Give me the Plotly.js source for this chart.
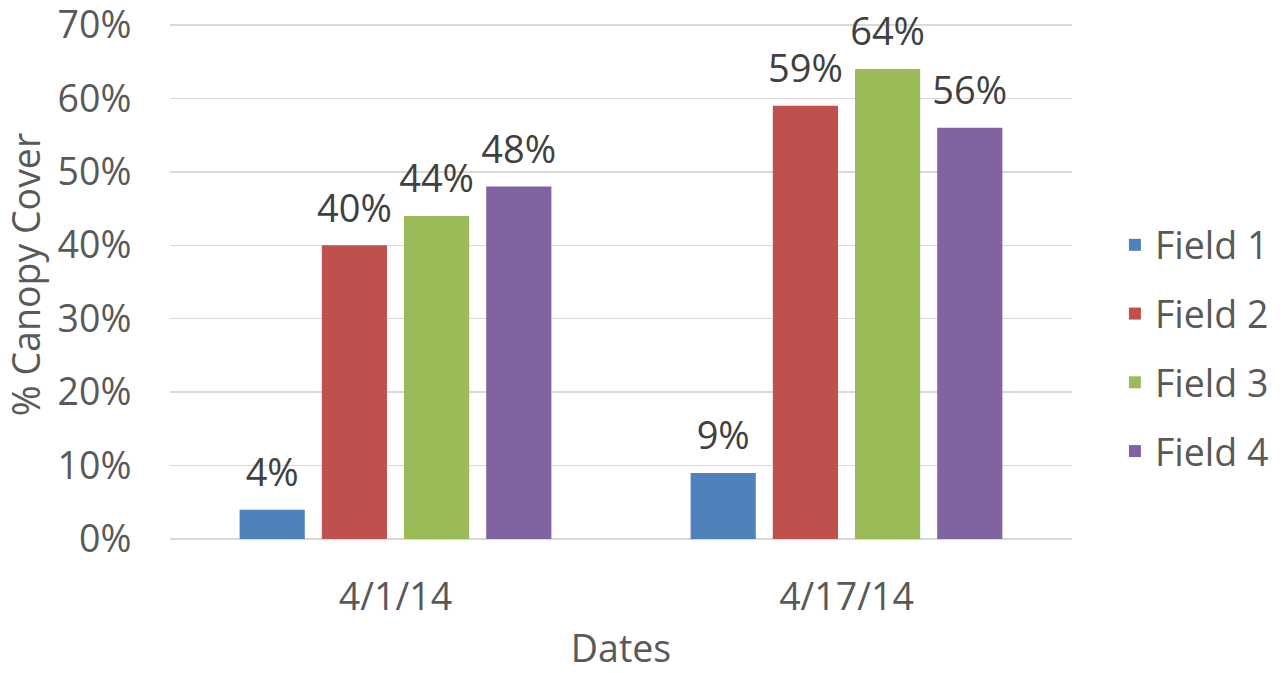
<!DOCTYPE html>
<html>
<head>
<meta charset="utf-8">
<script src="https://cdn.plot.ly/plotly-3.0.1.min.js"></script>
<style>html,body{margin:0;padding:0;background:#fff;}#chart{width:1283px;height:673px;}</style>
</head>
<body>
<div id="chart"></div>
<script>
const dates = ["4/1/14", "4/17/14"];
const seriesNames = ["Field 1", "Field 2", "Field 3", "Field 4"];
const field1 = [0.04, 0.09];
const field2 = [0.40, 0.59];
const field3 = [0.44, 0.64];
const field4 = [0.48, 0.56];
const colors = ["#4F81BD", "#C0504D", "#9BBB59", "#8064A2"];
const yTicks = [0, 0.1, 0.2, 0.3, 0.4, 0.5, 0.6, 0.7];

const txt = "#595959";
const lblColor = "#404040";
const fnt = "Open Sans, sans-serif";
const values = [field1, field2, field3, field4];

const bars = values.map((v, i) => ({
  type: "bar",
  name: seriesNames[i],
  x: dates,
  y: v,
  marker: {color: colors[i]},
  legendgroup: "g" + i,
  hoverinfo: "skip"
}));

const labels = values.map((v, i) => ({
  type: "scatter",
  mode: "markers+text",
  name: seriesNames[i] + " labels",
  x: dates,
  y: v,
  text: v.map(d => Math.round(d * 100) + "%"),
  textposition: "top center",
  textfont: {family: fnt, size: 38, color: lblColor},
  marker: {size: 21, color: "rgba(0,0,0,0)"},
  cliponaxis: false,
  showlegend: false,
  legendgroup: "g" + i,
  hoverinfo: "skip"
}));

const layout = {
  width: 1283, height: 673,
  margin: {l: 170, r: 211, t: 10, b: 134},
  paper_bgcolor: "#fff", plot_bgcolor: "#fff",
  barmode: "group",
  scattermode: "group",
  bargap: 0.271,
  scattergap: 0.271,
  bargroupgap: 0.207,
  font: {family: fnt, color: txt, size: 37.5},
  xaxis: {
    tickvals: dates, ticktext: dates,
    tickfont: {family: fnt, size: 37.5, color: txt},
    showline: false, ticks: "outside", ticklen: 25, tickcolor: "rgba(0,0,0,0)",
    showgrid: false,
    title: {text: "Dates", font: {family: fnt, size: 37.5, color: txt}, standoff: 37}
  },
  yaxis: {
    range: [0, 0.7204],
    tickvals: yTicks,
    tickformat: ".0%",
    tickfont: {family: fnt, size: 37.5, color: txt},
    ticklabeloverflow: "allow",
    showgrid: true, gridcolor: "#D9D9D9", gridwidth: 1.5,
    zeroline: true, zerolinecolor: "#D9D9D9", zerolinewidth: 1.5,
    showline: false, ticks: "outside", ticklen: 30, tickcolor: "rgba(0,0,0,0)",
    automargin: false,
    title: {text: "% Canopy Cover", font: {family: fnt, size: 37.5, color: txt}, standoff: 20}
  },
  legend: {
    xref: "container", yref: "container",
    x: 0.869, xanchor: "left", y: 0.483, yanchor: "middle",
    font: {family: fnt, size: 37.5, color: txt},
    traceorder: "grouped", tracegroupgap: 17,
    bgcolor: "rgba(0,0,0,0)"
  },
  showlegend: true
};

Plotly.newPlot("chart", bars.concat(labels), layout, {staticPlot: true, displayModeBar: false});
</script>
</body>
</html>
